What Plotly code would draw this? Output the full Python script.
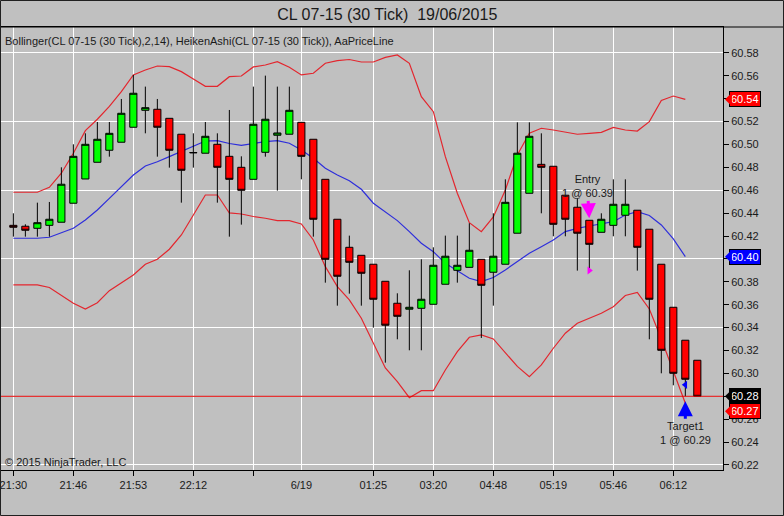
import plotly.graph_objects as go

# ---------------- data ----------------
bars = list(range(58))
opens = [60.4294, 60.4286, 60.4268, 60.4294, 60.4321, 60.4487, 60.4699, 60.4845, 60.4950, 60.5020,
         60.5151, 60.5299, 60.5308, 60.5229, 60.5090, 60.4927, 60.4924, 60.5002, 60.4897, 60.4801,
         60.4696, 60.4932, 60.5081, 60.5090, 60.5194, 60.5046, 60.4696, 60.4347, 60.4102, 60.4032,
         60.3954, 60.3805, 60.3613, 60.3561, 60.3569, 60.3604, 60.3779, 60.3901, 60.3927, 60.3997,
         60.3884, 60.3954, 60.4225, 60.4574, 60.4827, 60.4810, 60.4557, 60.4452, 60.4338, 60.4233,
         60.4294, 60.4382, 60.4426, 60.4260, 60.3954, 60.3578, 60.3290, 60.3115]
highs = [60.4399, 60.4303, 60.4492, 60.4498, 60.4801, 60.5002, 60.5098, 60.5197, 60.5197, 60.5398,
         60.5608, 60.5506, 60.5398, 60.5229, 60.5090, 60.5098, 60.5197, 60.5098, 60.5302, 60.4897,
         60.5506, 60.5602, 60.5506, 60.5506, 60.5194, 60.5046, 60.4696, 60.4347, 60.4204, 60.4032,
         60.3954, 60.3805, 60.3700, 60.3901, 60.3997, 60.4102, 60.4204, 60.4204, 60.4312, 60.3997,
         60.4399, 60.4696, 60.5194, 60.5194, 60.5098, 60.4810, 60.4557, 60.4530, 60.4338, 60.4399,
         60.4696, 60.4696, 60.4426, 60.4260, 60.3954, 60.3578, 60.3290, 60.3115]
lows = [60.4195, 60.4195, 60.4195, 60.4195, 60.4321, 60.4487, 60.4699, 60.4845, 60.4894, 60.5020,
        60.5151, 60.5098, 60.4894, 60.4798, 60.4492, 60.4798, 60.4924, 60.4492, 60.4195, 60.4300,
        60.4696, 60.4894, 60.4597, 60.5090, 60.4696, 60.4195, 60.3793, 60.3592, 60.3697, 60.3592,
        60.3400, 60.3094, 60.3298, 60.3202, 60.3202, 60.3604, 60.3779, 60.3793, 60.3927, 60.3310,
        60.3592, 60.3954, 60.4225, 60.4574, 60.4399, 60.4198, 60.4198, 60.3898, 60.3884, 60.4233,
        60.4198, 60.4198, 60.3898, 60.3298, 60.3001, 60.2896, 60.2800, 60.2800]
closes = [60.4277, 60.4251, 60.4317, 60.4347, 60.4653, 60.4897, 60.5002, 60.5046, 60.5098, 60.5273,
          60.5448, 60.5322, 60.5151, 60.4950, 60.4775, 60.4930, 60.5072, 60.4801, 60.4696, 60.4600,
          60.5177, 60.5221, 60.5101, 60.5299, 60.4897, 60.4347, 60.3997, 60.3849, 60.3971, 60.3875,
          60.3648, 60.3421, 60.3499, 60.3578, 60.3648, 60.3945, 60.4024, 60.3945, 60.4076, 60.3770,
          60.4024, 60.4495, 60.4924, 60.5072, 60.4801, 60.4303, 60.4347, 60.4225, 60.4128, 60.4347,
          60.4478, 60.4478, 60.4102, 60.3648, 60.3202, 60.3001, 60.2949, 60.2800]

band_bars = list(range(57))
bb_upper = [60.4583, 60.4583, 60.4583, 60.4626, 60.4749, 60.4924, 60.5121, 60.5221, 60.5334, 60.5462,
            60.5608, 60.5651, 60.5686, 60.5680, 60.5637, 60.5573, 60.5509, 60.5509, 60.5593, 60.5599,
            60.5678, 60.5695, 60.5724, 60.5675, 60.5608, 60.5623, 60.5710, 60.5733, 60.5743, 60.5721,
            60.5721, 60.5762, 60.5783, 60.5710, 60.5418, 60.5287, 60.4894, 60.4574, 60.4317, 60.4239,
            60.4367, 60.4603, 60.4909, 60.5098, 60.5142, 60.5127, 60.5107, 60.5090, 60.5098, 60.5107,
            60.5149, 60.5127, 60.5118, 60.5200, 60.5385, 60.5424, 60.5394]
bb_mid = [60.4181, 60.4181, 60.4181, 60.4190, 60.4230, 60.4268, 60.4341, 60.4428, 60.4530, 60.4632,
          60.4734, 60.4813, 60.4850, 60.4894, 60.4938, 60.4987, 60.5031, 60.5034, 60.5009, 60.4992,
          60.5009, 60.5025, 60.5034, 60.5011, 60.4952, 60.4880, 60.4793, 60.4734, 60.4684, 60.4609,
          60.4487, 60.4413, 60.4335, 60.4239, 60.4137, 60.4064, 60.3962, 60.3898, 60.3831, 60.3802,
          60.3838, 60.3904, 60.3976, 60.4050, 60.4107, 60.4166, 60.4239, 60.4268, 60.4288, 60.4306,
          60.4326, 60.4384, 60.4413, 60.4380, 60.4297, 60.4175, 60.4020]
bb_lower = [60.3773, 60.3773, 60.3773, 60.3751, 60.3685, 60.3613, 60.3563, 60.3618, 60.3723, 60.3793,
            60.3860, 60.3954, 60.3997, 60.4085, 60.4210, 60.4384, 60.4559, 60.4559, 60.4402, 60.4393,
            60.4371, 60.4356, 60.4335, 60.4335, 60.4306, 60.4166, 60.3933, 60.3758, 60.3642, 60.3482,
            60.3263, 60.3048, 60.2928, 60.2788, 60.2849, 60.2849, 60.3030, 60.3190, 60.3316, 60.3336,
            60.3301, 60.3183, 60.3061, 60.2972, 60.3074, 60.3220, 60.3351, 60.3438, 60.3482, 60.3525,
            60.3583, 60.3681, 60.3707, 60.3563, 60.3301, 60.3015, 60.2739]

tick_bars = [0, 5, 10, 15, 20, 30, 35, 40, 45, 50, 55]
tick_labels = ["21:30", "21:46", "21:53", "22:12", "", "01:25", "03:20",
               "04:48", "05:19", "05:46", "06:12"]
date_bar, date_label = 24, "6/19"
price_ticks = [round(60.22 + 0.02 * k, 2) for k in range(19)]      # 60.22 ... 60.58
grid_ticks = [round(60.22 + 0.06 * k, 2) for k in range(7)]        # 60.22 ... 60.58

last_price = 60.28
entry_bar, entry_price = 48, 60.39
target_bar, target_price = 56, 60.29

title_text = "CL 07-15 (30 Tick)\u00a0\u00a019/06/2015"
legend_text = "Bollinger(CL 07-15 (30 Tick),2,14), HeikenAshi(CL 07-15 (30 Tick)), AaPriceLine"
copyright_text = "© 2015 NinjaTrader, LLC"

# ---------------- styling ----------------
FONT = "Liberation Sans, Arial, sans-serif"
BG = "#C0C0C0"
TXT = "#1a1a1a"
BAND_RED = "#E3262E"
BAND_BLUE = "#2E2EDB"
Y_RANGE = [60.2156, 60.6027]
X_RANGE = [-1.03, 59.14]
W, H = 784, 516
ML, MR, MT, MB = 1, 61, 27, 46
PW, PH = W - ML - MR, H - MT - MB

fig = go.Figure()

# Bollinger bands (main subplot, below candles)
for band, col in ((bb_upper, BAND_RED), (bb_lower, BAND_RED), (bb_mid, BAND_BLUE)):
    fig.add_trace(go.Scatter(x=band_bars, y=band, mode="lines",
                             line=dict(color=col, width=1.2), hoverinfo="skip", showlegend=False))

# Heiken Ashi candles (overlay subplot, drawn above bands)
fig.add_trace(go.Candlestick(
    x=bars, open=opens, high=highs, low=lows, close=closes, yaxis="y2",
    increasing=dict(fillcolor="#00FF00", line=dict(color="black", width=1)),
    decreasing=dict(fillcolor="#FF0000", line=dict(color="black", width=1)),
    whiskerwidth=0, showlegend=False, hoverinfo="skip"))

# execution markers (on the overlay x axis that carries the date label)
fig.add_trace(go.Scatter(x=[entry_bar], y=[entry_price], xaxis="x2", yaxis="y2", mode="markers",
                         marker=dict(symbol="triangle-right", size=7, color="#FF00FF"),
                         showlegend=False, hoverinfo="skip"))
fig.add_trace(go.Scatter(x=[target_bar], y=[target_price], xaxis="x2", yaxis="y2", mode="markers",
                         marker=dict(symbol="triangle-left", size=7, color="#0000FF"),
                         showlegend=False, hoverinfo="skip"))

# price line
fig.add_shape(type="line", xref="paper", x0=0, x1=1, yref="y", y0=last_price, y1=last_price,
              line=dict(color="#E00000", width=1), layer="above")
# top border continuing over the price-axis panel, and outer frame
fig.add_shape(type="line", xref="paper", yref="paper", x0=0, x1=(W - ML) / PW, y0=1, y1=1,
              line=dict(color="black", width=1))
fig.add_shape(type="rect", xref="paper", yref="paper",
              x0=(0.5 - ML) / PW, x1=(W - 0.5 - ML) / PW,
              y0=-(MB - 0.5) / PH, y1=1 + (MT - 0.5) / PH,
              line=dict(color="#202020", width=1))

ann = []
# entry / target annotations with arrows
ann.append(dict(x=entry_bar, y=highs[entry_bar], xref="x", yref="y2",
                text="Entry<br>1 @ %.2f" % entry_price, showarrow=True,
                ax=-2, ay=-34, arrowhead=2, arrowsize=1, arrowwidth=3, arrowcolor="#FF00FF",
                standoff=2, font=dict(family=FONT, size=11, color=TXT)))
ann.append(dict(x=target_bar, y=lows[target_bar], xref="x", yref="y2",
                text="Target1<br>1 @ %.2f" % target_price, showarrow=True,
                ax=0, ay=37, arrowhead=2, arrowsize=1, arrowwidth=3, arrowcolor="#0000FF",
                standoff=5, font=dict(family=FONT, size=11, color=TXT)))

# price tags on the axis (box + pointed tip made with the annotation arrow head)
def tag(value, bg, yshift=0):
    return dict(x=1, xref="paper", y=value, yref="y2", text="%.2f" % value,
                xanchor="left", yanchor="middle", yshift=yshift,
                showarrow=True, ax=6, ay=0, arrowhead=1, arrowwidth=1, arrowsize=2.3,
                arrowcolor=bg, standoff=2,
                bgcolor=bg, bordercolor="black", borderwidth=1, borderpad=1,
                font=dict(family=FONT, size=11, color="white"))

ann.append(tag(bb_upper[-1], "#FF0000"))
ann.append(tag(bb_mid[-1], "#0000FF"))
ann.append(tag(last_price, "#000000"))
ann.append(tag(bb_lower[-1], "#FF0000", yshift=-8))

# header / footer texts
ann.append(dict(x=0, y=1, xref="paper", yref="paper", text=legend_text, showarrow=False,
                xanchor="left", yanchor="top", xshift=2, yshift=-6,
                font=dict(family=FONT, size=11, color=TXT)))
ann.append(dict(x=0, y=0, xref="paper", yref="paper", text=copyright_text, showarrow=False,
                xanchor="left", yanchor="bottom", xshift=2, yshift=0,
                font=dict(family=FONT, size=11, color=TXT)))

axis_font = dict(family=FONT, size=11, color=TXT)
fig.update_layout(
    width=W, height=H,
    margin=dict(l=ML, r=MR, t=MT, b=MB, pad=0),
    paper_bgcolor=BG, plot_bgcolor=BG,
    boxgap=0.15,
    title=dict(text=title_text, x=0.494, xref="container", y=1 - 14 / H, yanchor="middle",
               xanchor="center", font=dict(family=FONT, size=16, color=TXT)),
    xaxis=dict(range=X_RANGE, rangeslider=dict(visible=False), tickmode="array",
               tickvals=tick_bars, ticktext=tick_labels, ticks="outside", ticklen=5,
               tickcolor="black", showgrid=True, gridcolor="white", gridwidth=1,
               showline=True, linecolor="black", linewidth=1, mirror=True, zeroline=False,
               ticklabeloverflow="allow", automargin=False, tickfont=axis_font),
    xaxis2=dict(range=X_RANGE, overlaying="x", anchor="y", side="bottom", tickmode="array",
                tickvals=[date_bar], ticktext=[date_label], ticks="outside", ticklen=5,
                tickcolor="rgba(0,0,0,0)", showgrid=True,
                gridcolor="white", gridwidth=1, showline=False, zeroline=False,
                automargin=False, tickfont=axis_font),
    yaxis=dict(range=Y_RANGE, tickmode="array", tickvals=grid_ticks, showgrid=True,
               gridcolor="white", gridwidth=1, showticklabels=False, ticks="", side="right",
               zeroline=False, showline=True, linecolor="black", linewidth=1, mirror=True,
               automargin=False),
    yaxis2=dict(range=Y_RANGE, overlaying="y", side="right", tickmode="array",
                tickvals=price_ticks, tickformat=".2f", ticks="outside", ticklen=5,
                tickcolor="black", showgrid=False, zeroline=False, showline=False,
                automargin=False, ticklabeloverflow="allow", tickfont=axis_font),
    annotations=ann,
    showlegend=False,
)

fig.write_html("out.html", config={"displayModeBar": False},
               post_script="document.body.style.margin='0px';document.body.style.overflow='hidden';")
